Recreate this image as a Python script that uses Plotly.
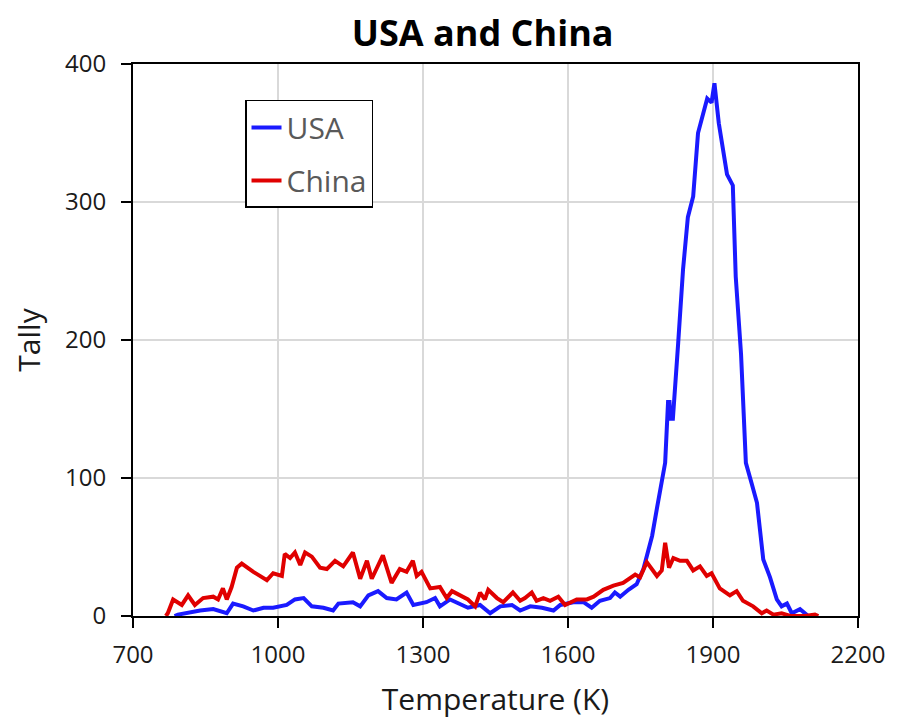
import plotly.graph_objects as go

# China (red) series
china_T = [768, 772, 783, 801, 814, 828, 845, 866, 876, 886, 894, 904, 915, 925, 949, 977, 990,
           1008, 1014, 1025, 1035, 1046, 1056, 1070, 1087, 1101, 1118, 1135, 1155, 1170, 1184,
           1194, 1217, 1235, 1252, 1266, 1279, 1287, 1297, 1315, 1335, 1349, 1360, 1377, 1393,
           1408, 1418, 1428, 1435, 1453, 1466, 1486, 1501, 1511, 1525, 1535, 1549, 1563, 1580,
           1594, 1618, 1639, 1653, 1673, 1694, 1714, 1739, 1749, 1763, 1784, 1794, 1801, 1809,
           1818, 1832, 1846, 1859, 1873, 1887, 1897, 1914, 1935, 1949, 1962, 1983, 2001, 2011,
           2025, 2042, 2060, 2090, 2111, 2118]
china_tally = [0, 2, 12, 8, 15, 8, 13, 14, 12, 20, 12, 21, 35, 38, 32, 26, 31,
               29, 45, 42, 46, 37, 46, 43, 35, 34, 40, 36, 46, 27, 40,
               27, 44, 24, 34, 32, 40, 29, 32, 20, 21, 13, 18, 15, 12,
               7, 17, 12, 19, 13, 10, 17, 11, 13, 17, 11, 13, 11, 14,
               8, 12, 12, 14, 19, 22, 24, 30, 28, 39, 29, 33, 53, 35,
               42, 40, 40, 33, 36, 29, 31, 20, 15, 18, 11, 7, 2, 4,
               1, 2, 0, 0, 1, 0]

# USA (blue) series
usa_T = [786, 793, 839, 866, 894, 907, 928, 949, 970, 990, 1018, 1035, 1053, 1070, 1094, 1114,
         1125, 1155, 1170, 1187, 1207, 1225, 1245, 1266, 1280, 1307, 1325, 1335, 1356, 1377,
         1393, 1418, 1439, 1460, 1484, 1501, 1522, 1546, 1570, 1584, 1611, 1632, 1649, 1666,
         1687, 1697, 1708, 1725, 1742, 1756, 1774, 1784, 1801, 1807, 1810, 1812, 1817, 1828,
         1838, 1848, 1859, 1869, 1879, 1888, 1897, 1903, 1912, 1922, 1929, 1941, 1947, 1958,
         1968, 1980, 1991, 2004, 2018, 2032, 2042, 2053, 2063, 2080, 2097]
usa_tally = [0, 1, 4, 5, 2, 9, 7, 4, 6, 6, 8, 12, 13, 7, 6, 4,
             9, 10, 7, 15, 18, 13, 12, 17, 8, 10, 13, 7, 12, 9,
             6, 8, 2, 7, 8, 4, 7, 6, 4, 8, 10, 10, 6, 11,
             13, 17, 14, 19, 23, 34, 58, 78, 111, 155, 155, 143, 143, 198,
             251, 289, 304, 350, 364, 375, 372, 386, 357, 333, 320, 312, 246, 190,
             111, 96, 82, 41, 28, 12, 7, 9, 2, 5, 0]

x_ticks = [700, 1000, 1300, 1600, 1900, 2200]
y_ticks = [0, 100, 200, 300, 400]

FONT = "Open Sans"

fig = go.Figure()
fig.add_trace(go.Scatter(x=usa_T, y=usa_tally, mode="lines", name="USA", legendgroup="usa",
                         line=dict(color="#1a1aff", width=4)))
fig.add_trace(go.Scatter(x=china_T, y=china_tally, mode="lines", name="China", legendgroup="china",
                         line=dict(color="#e00000", width=4)))

fig.update_layout(
    width=889, height=714,
    margin=dict(l=125, r=39, t=56, b=106, autoexpand=False),
    paper_bgcolor="white", plot_bgcolor="white",
    font=dict(family=FONT, color="#1a1a1a"),
    title=dict(text="<b>USA and China</b>", x=0.534, xanchor="center", y=0.965, yanchor="middle",
               font=dict(size=36, color="black", family=FONT)),
    showlegend=True,
    legend=dict(x=0.1545, y=0.935, xanchor="left", yanchor="top",
                bgcolor="white", bordercolor="black", borderwidth=1.5,
                font=dict(size=30, color="#595959", family=FONT),
                itemwidth=30, traceorder="grouped", tracegroupgap=11),
    xaxis=dict(range=[700, 2200], tickvals=x_ticks, ticktext=[str(v) for v in x_ticks],
               showgrid=True, gridcolor="#d9d9d9", gridwidth=1.5,
               showline=True, linecolor="black", linewidth=2, mirror=True,
               ticks="outside", ticklen=10, tickcolor="black", tickwidth=2,
               ticklabelstandoff=6,
               tickfont=dict(size=24, color="#1a1a1a"),
               title=dict(text="Temperature (K)", font=dict(size=30, color="#1a1a1a"), standoff=20),
               zeroline=False, automargin=False),
    yaxis=dict(range=[0, 400], tickvals=y_ticks, ticktext=[str(v) for v in y_ticks],
               showgrid=True, gridcolor="#d9d9d9", gridwidth=1.5,
               showline=True, linecolor="black", linewidth=2, mirror=True,
               ticks="outside", ticklen=10, tickcolor="black", tickwidth=2,
               ticklabelstandoff=10,
               tickfont=dict(size=24, color="#1a1a1a"),
               title=dict(text="Tally", font=dict(size=30, color="#1a1a1a"), standoff=17),
               zeroline=False, automargin=False),
)

fig.write_html("out.html")
